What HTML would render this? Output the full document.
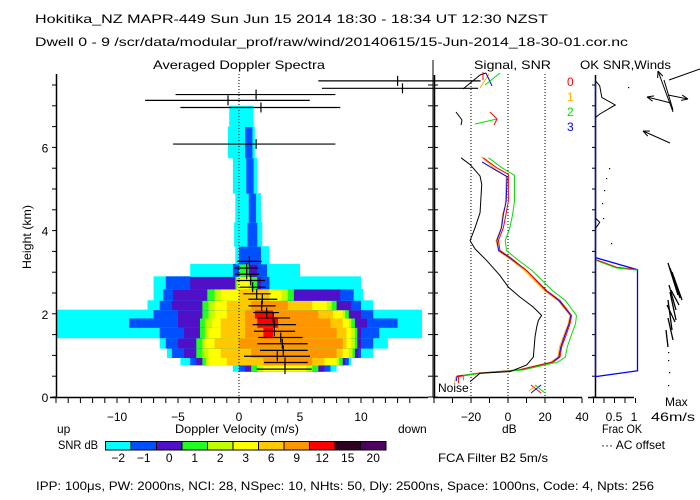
<!DOCTYPE html>
<html><head><meta charset="utf-8"><style>
body{margin:0;background:#fff}
svg{display:block}
text{font-family:"Liberation Sans",sans-serif;font-size:12px;fill:#000}
</style></head><body>
<svg id="chart" width="700" height="500" viewBox="0 0 700 500">
<rect width="700" height="500" fill="#fff"/>
<text x="35" y="23" textLength="513" lengthAdjust="spacingAndGlyphs">Hokitika_NZ  MAPR-449  Sun Jun 15 2014 18:30 - 18:34 UT 12:30 NZST</text>
<text x="35" y="46" textLength="593" lengthAdjust="spacingAndGlyphs">Dwell  0 -  9   /scr/data/modular_prof/raw/wind/20140615/15-Jun-2014_18-30-01.cor.nc</text>
<text x="153" y="69" textLength="172" lengthAdjust="spacingAndGlyphs">Averaged Doppler Spectra</text>
<text x="474" y="69" textLength="77" lengthAdjust="spacingAndGlyphs">Signal, SNR</text>
<text x="580" y="69" textLength="91" lengthAdjust="spacingAndGlyphs">OK SNR,Winds</text>
<text x="31" y="237" transform="rotate(-90 31 237)" text-anchor="middle" textLength="64" lengthAdjust="spacingAndGlyphs">Height (km)</text>
<text x="175" y="433" textLength="124" lengthAdjust="spacingAndGlyphs">Doppler Velocity (m/s)</text>
<text x="57" y="433">up</text>
<text x="398" y="433">down</text>
<text x="58" y="449" textLength="40" lengthAdjust="spacingAndGlyphs">SNR dB</text>
<text x="502" y="433">dB</text>
<text x="602" y="433" textLength="40" lengthAdjust="spacingAndGlyphs">Frac OK</text>
<text x="601" y="449" textLength="64" lengthAdjust="spacingAndGlyphs">··· AC offset</text>
<text x="665" y="406">Max</text>
<text x="651" y="421" textLength="44" lengthAdjust="spacingAndGlyphs" style="font-size:12px">46m/s</text>
<text x="438" y="462" textLength="110" lengthAdjust="spacingAndGlyphs">FCA Filter B2   5m/s</text>
<text x="36" y="490" textLength="618" lengthAdjust="spacingAndGlyphs">IPP: 100μs,  PW: 2000ns,  NCI:  28,  NSpec: 10, NHts: 50,  Dly: 2500ns,  Space: 1000ns,  Code: 4,  Npts: 256</text>
<text x="438" y="392">Noise</text>
<g id="heat"></g>
<g id="axes"></g>
<g id="marks"></g>
</svg>
<script>
// ---- data ----
const levelColors = ["#00ffff","#0050ff","#5010c8","#20ff20","#c0ff00","#ffff00","#ffc800","#ff9600","#ff0000","#300020","#500060"];
const levelLabels = ["-2","-1","0","1","2","3","6","9","12","15","20"];
const rowHeights = [0.7,0.85,1.05,1.3,1.55,1.8,2.0,2.2,2.45,2.75,3.05,3.35,3.9,4.5,5.3,6.2,6.8];
const rowLevels = [
 [[-0.5,8],[0,7.5],[0.5,7],[1,6.5],[1.5,6],[2,5.5]],
 [[-4.8,9.2],[-4,9],[-3.5,8.7],[-3,8.5],[-2.7,8.2],[-2.5,8],[-1,7],[2,6]],
 [[-5.9,11],[-5.5,10],[-4.5,9.8],[-3.5,9.5],[-3,9.3],[-2.5,9],[-1.5,8.5],[1,8]],
 [[-6.5,12.2],[-6,11],[-5,10],[-3.5,9.7],[-3,9.5],[-2.8,9.2],[-2,8.8],[0,8.5]],
 [[-15,15],[-6.5,11.5],[-4.5,10],[-3.2,9.7],[-2.8,9.5],[-2.5,9.2],[-1.5,8.8],[0.5,8],[2,2.8]],
 [[-15,15],[-9,13],[-5,10.5],[-3.2,9.5],[-2.8,9.2],[-2.2,9],[-1.5,8.5],[0.5,7.5],[1.5,3.2]],
 [[-15,15],[-7,11],[-5,10],[-3,9],[-2.5,8.7],[-2,8.5],[-1,7.7],[0.5,6.5],[1.3,2.8]],
 [[-7.5,11],[-6.5,10],[-5.5,9.2],[-3,8],[-2.5,7.6],[-2,7.2],[-1,6],[1,4]],
 [[-7,10.2],[-6.2,9.4],[-5.4,8.3],[-2.6,4.5],[-2,4],[-1.5,3.5],[0,2.5]],
 [[-7,10],[-6,2.5],[-4,1.8],[-0.3,1.5],[-0.2,1.0],[-0.1,0.8]],
 [[-4,5],[-0.5,2.3],[0,1.5],[0,0.8]],
 [[-0.3,2.5],[0,1.8]],
 [[-0.4,1.9],[0.7,1.5]],
 [[-0.3,1.8],[0.8,1.4]],
 [[-0.5,1.5],[0.6,1.2]],
 [[-0.9,1.3],[0.5,1.1]],
 [[-0.8,1.2]]
];
const momentHeights = [3.26,3.10,2.95,2.80,2.64,2.48,2.35,2.19,2.03,1.90,1.74,1.58,1.43,1.28,1.12,0.98,0.83,0.67,7.6,7.42,7.27,7.13,6.96,6.08];
const momentMean = [0.85,0.63,0.63,0.96,1.12,1.45,1.91,1.86,2.27,2.81,2.9,2.9,3.42,3.55,3.63,3.14,3.77,3.77,13.0,13.4,1.4,-0.9,1.8,1.4];
const momentLo = [-0.14,-0.41,-0.33,-0.19,0.08,0.36,0.77,0.77,1.17,1.5,1.12,1.23,1.58,1.5,1.72,0.41,2.05,1.45,6.5,6.8,-5.2,-7.7,-4.8,-5.4];
const momentHi = [1.86,1.58,1.64,2.13,2.21,2.6,3.14,3.0,3.28,4.19,4.68,4.6,5.22,5.63,5.63,5.82,5.63,5.96,19.8,19.6,7.9,5.8,8.3,7.9];
const noiseSeries = [[-25.4,5.75],[-20.5,5.59],[-15.1,5.31],[-14.2,5.11],[-15.1,4.43],[-17.8,4.07],[-20.5,3.76],[-17.8,3.56],[-11.5,3.28],[-4.3,2.92],[0.2,2.64],[6.5,2.40],[13.7,2.16],[18.2,1.96],[16.4,1.84],[15.5,1.68],[14.6,1.44],[13.7,0.96],[10.1,0.77],[1.1,0.61],[-15.1,0.57],[-20.5,0.37]];
const snr0 = [[-13.4,5.75],[-6.1,5.51],[0.2,5.35],[0.2,4.71],[-1.1,4.39],[-2.5,4.07],[-5.2,3.76],[-4.3,3.52],[1.1,3.36],[10.1,3.04],[20.9,2.56],[28.1,2.32],[34.4,1.96],[33.5,1.76],[31.7,1.52],[29,1.2],[28.1,0.96],[24.5,0.84],[6.5,0.65],[-15.1,0.57],[-26.8,0.49],[-26.8,0.33]];
const snr1 = [[-14.5,5.78],[-7.5,5.5],[-1,5.3],[-1.5,4.6],[-3,4.39],[-3.8,4.05],[-6.5,3.76],[-5,3.5],[0,3.35],[9,3.04],[19.5,2.56],[27,2.32],[33.5,1.96],[32.5,1.76],[30.5,1.52],[27.8,1.2],[27,0.96],[23,0.84],[5,0.65],[-16,0.58],[-28,0.5],[-29,0.35]];
const snr2 = [[-10.5,5.75],[-3,5.5],[3.5,5.33],[3.5,4.7],[2.5,4.39],[1,4.07],[-1.5,3.76],[-0.8,3.52],[3.5,3.36],[13,3.04],[24,2.56],[31,2.32],[37,1.96],[36.5,1.76],[34.5,1.52],[32,1.2],[31,0.96],[27,0.84],[8,0.65],[-14,0.57],[-24,0.52],[-24,0.4]];
const snr3 = [[-14,5.65],[-6.5,5.45],[-0.5,5.3],[-1,4.7],[-2.5,4.39],[-3.5,4.07],[-6,3.76],[-5,3.52],[0.5,3.36],[10,3.04],[20.5,2.56],[27.5,2.32],[34,1.96],[33,1.76],[31,1.52],[28.5,1.2],[27.5,0.96],[24,0.84],[6,0.65],[-15.5,0.57],[-27.5,0.5],[-28,0.38]];
const snrColors = ["#ff0000","#ffb400","#00e000","#0000ff"];
const okFrac = [[0,7.6],[0.1,7.48],[0.15,7.2],[0.47,7.02],[0.1,6.8],[0,6.72]];
const okBlue = [[0,7.6],[0,0.49],[1,0.63],[1,3.06],[0,3.35]];
const xTicksV = [-10,-5,0,5,10];
const yTicksH = [0,2,4,6];
const xTicksDB = [-20,0,20,40];

// ---- scales ----
const xV = v => 239 + 12.2*v;
const yH = h => 397 - 41.6*h;
const xDB = d => 508 + 1.85*d;
const xF = f => 595.5 + 42*f;
const NS = "http://www.w3.org/2000/svg";
function mk(tag, attrs, parent){const e=document.createElementNS(NS,tag);for(const k in attrs)e.setAttribute(k,attrs[k]);parent.appendChild(e);return e;}
const heat = document.getElementById('heat'), axes = document.getElementById('axes'), marks = document.getElementById('marks');

// heatmap
rowHeights.forEach((h,i)=>{
  const lo = i===0 ? 0.62 : (rowHeights[i-1]+h)/2;
  const hi = i===rowHeights.length-1 ? 7.0 : (rowHeights[i+1]+h)/2;
  rowLevels[i].forEach((p,l)=>{
    const a=Math.max(-15,p[0]), b=Math.min(15,p[1]);
    const r=mk('rect',{x:xV(a),y:yH(hi),width:xV(b)-xV(a),height:yH(lo)-yH(hi)+0.5,fill:levelColors[l]},heat);
    
    
  });
});

// axes main
function line(x1,y1,x2,y2,st,w,parent,name,dash){const e=mk('line',{x1,y1,x2,y2,stroke:st||'#000','stroke-width':w||1},parent||axes);if(dash)e.setAttribute('stroke-dasharray',dash);return e;}
line(56.5,74,56.5,397,'#000',1.5,axes,'y-axis-line');
line(50,397.5,428,397.5,'#000',1.5,axes,'x-axis-line');
for(let h=0;h<=7.5;h+=0.5){line(52,yH(h),56,yH(h),'#000',1,axes,'y-tick');line(428,yH(h),433,yH(h),'#000',1,axes,'y-tick-right');line(434,yH(h),438,yH(h),'#000',1,axes,'signal-y-tick');line(592,yH(h),596,yH(h),'#000',1,axes,'ok-y-tick');}
line(433,60,433,397,'#000',1,axes,'spectra-right-border');
for(let v=-15;v<=14;v++){line(xV(v),398,xV(v),403,'#000',1,axes,'x-tick');}
xTicksV.forEach(v=>{const t=mk('text',{x:xV(v),y:421,'text-anchor':'middle'},axes);t.textContent=String(v).replace('-','−');});
yTicksH.forEach(h=>{const t=mk('text',{x:45,y:yH(h)+5,'text-anchor':'middle'},axes);t.textContent=h;});
line(xV(0),74,xV(0),397,'#000',1,axes,'zero-velocity-line','1,2');
// signal panel
line(434.5,75,434.5,397,'#000',1.5,axes,'signal-left-axis');
line(433,397.5,582,397.5,'#000',1.5,axes,'signal-x-axis');
for(let d=-40;d<=40;d+=10) line(xDB(d),398,xDB(d),403,'#000',1,axes,'signal-x-tick');
[-20,0,20].forEach(d=>line(xDB(d),74,xDB(d),397,'#000',1,axes,'signal-ref-line','1,2'));
xTicksDB.forEach(d=>{const t=mk('text',{x:xDB(d),y:421,'text-anchor':'middle'},axes);t.textContent=String(d).replace('-','−');});
// ok panel
line(595.5,75,595.5,397,'#000',1.5,axes,'ok-left-axis');
line(588,397.5,634,397.5,'#000',1.5,axes,'ok-x-axis');
for(let f=0;f<=1;f+=0.25) line(xF(f)-2,398,xF(f)-2,403,'#000',1,axes,'ok-x-tick');
[["0.5",614],["1",634]].forEach(a=>{const t=mk('text',{x:a[1],y:421,'text-anchor':'middle'},axes);t.textContent=a[0];});

// colorbar
levelColors.forEach((c,i)=>{
  const r=mk('rect',{x:105.5+i*25.5,y:441.5,width:25.5,height:8.5,fill:c,stroke:'#000','stroke-width':1},axes);
  
  
  const t=mk('text',{x:105.5+i*25.5+12.7,y:462,'text-anchor':'middle'},axes);t.textContent=levelLabels[i].replace('-','−');
  
  
});

// moments
momentHeights.forEach((h,i)=>{
  const y=yH(h);
  line(xV(momentLo[i]),y,xV(momentHi[i]),y,'#000',1.2,marks,'moment-width-bar');
  line(xV(momentMean[i]),y-5,xV(momentMean[i]),y+5,'#000',1.2,marks,'moment-mean-tick');
});

function poly(data,fx,fy,col,name,w){
  const p=mk('polyline',{points:data.map(d=>fx(d[0])+','+fy(d[1])).join(' '),fill:'none',stroke:col,'stroke-width':w||1},marks);
  
  
}
[snr1,snr3,snr0,snr2].forEach((s,k)=>{const idx=[1,3,0,2][k];poly(s,xDB,yH,snrColors[idx],'snr-line-ch'+idx);});
poly(noiseSeries,xDB,yH,'#000','signal-noise-line');
poly(okBlue,xF,yH,'#0000ff','ok-fraction-line',1.3);
poly(okFrac,xF,yH,'#000','ok-snr-profile');
poly([[0,4.3],[0.1,4.2],[0,4.05]],xF,yH,'#000','ok-snr-bump');
poly([[0.02,3.3],[0.5,3.12],[1,3.06]],xF,yH,'#ff0000','ok-fraction-line-ch0');
poly([[0.02,3.28],[0.5,3.1],[1,3.05]],xF,yH,'#00e000','ok-fraction-line-ch2');

// channel legend
["0","1","2","3"].forEach((s,i)=>{const t=mk('text',{x:567,y:86+i*15},marks);t.textContent=s;t.setAttribute('fill',snrColors[i]);t.style.fill=snrColors[i];

});

// decorative wind barbs / arrows
function seg(x1,y1,x2,y2,c,name){line(x1,y1,x2,y2,c,1,marks,name);}
seg(463,89,480,75,'#000','top-signal-trace');seg(480,75,486,73,'#000','top-signal-trace');
seg(483,72,483,80,'#ff0000','signal-wind-mark');seg(480,88,489,74,'#ffb400','signal-wind-mark');seg(486,73,492,86,'#0000ff','signal-wind-mark');seg(485,85,500,73,'#00e000','signal-wind-mark');
seg(475,124,497,119,'#00e000','signal-wind-arrow');seg(490,112,497,119,'#ff0000','signal-wind-arrow');seg(497,119,494,125,'#ff0000','signal-wind-arrow');
seg(456,112,462,120,'#000','signal-trace-fragment');seg(462,120,461,125,'#000','signal-trace-fragment');
seg(531,385,541,393,'#ff0000','noise-marker');seg(531,393,541,385,'#0000ff','noise-marker');seg(535,385,545,393,'#00e000','noise-marker');seg(529,391,537,385,'#ffb400','noise-marker');
// winds
function arrow(x1,y1,x2,y2,name){seg(x1,y1,x2,y2,'#000',name);const a=Math.atan2(y2-y1,x2-x1);
 seg(x2,y2,x2-7*Math.cos(a-0.4),y2-7*Math.sin(a-0.4),'#000',name);seg(x2,y2,x2-7*Math.cos(a+0.4),y2-7*Math.sin(a+0.4),'#000',name);}
arrow(673,112,658,71,'wind-arrow');arrow(671,103,647,97,'wind-arrow');arrow(668,95,688,99,'wind-arrow');arrow(670,143,643,131,'wind-arrow');
seg(669,80,700,69,'#000','wind-arrow');seg(664,80,673,110,'#000','wind-arrow');
const scr=[[668,263,678,295],[670,268,680,298],[672,272,682,300],[669,285,676,310],[670,292,676,320],[668,300,672,330],[667,305,675,322],[668,318,673,340],[671,290,679,305],[666,330,668,347]];
scr.forEach(s=>line(s[0],s[1],s[2],s[3],'#000',1.3,marks,'wind-barb'));
[[668,352],[668,360],[669,372],[668,385],[609,168],[606,178],[604,190],[602,203],[603,218],[611,243],[628,87]].forEach(p=>{const r=mk('rect',{x:p[0],y:p[1],width:1.2,height:1.2,fill:'#000'},marks);});
</script>
</body></html>
